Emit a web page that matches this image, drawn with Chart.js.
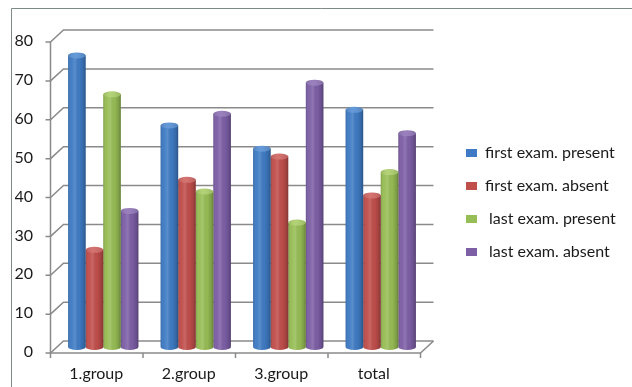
<!DOCTYPE html>
<html><head><meta charset="utf-8">
<style>html,body{margin:0;padding:0;background:#fff}#wrap{width:632px;height:387px;position:relative}</style>
<script src="https://cdn.jsdelivr.net/npm/chart.js@4.4.0/dist/chart.umd.min.js"></script>
</head><body><div id="wrap"><canvas id="c" width="632" height="387"></canvas></div>
<script>
const categories = ['1.group', '2.group', '3.group', 'total'];
const seriesNames = ['first exam. present', 'first exam. absent', ' last exam. present', ' last exam. absent'];
const firstExamPresent = [75, 57, 51, 61];
const firstExamAbsent = [25, 43, 49, 39];
const lastExamPresent = [65, 40, 32, 45];
const lastExamAbsent = [35, 60, 68, 55];
const yTicks = [0, 10, 20, 30, 40, 50, 60, 70, 80];

const baseColors = ['#3F7BC4', '#C04E4B', '#97BD55', '#7D5FA6'];
const topColors = ['#5B93D6', '#D26A67', '#AFD06F', '#9479BA'];
const FONT = 'Lato';

const frame3d = {
  id: 'frame3d',
  afterInit(chart) {
    const lg = chart.legend;
    if (lg) {
      const orig = lg.fit.bind(lg);
      lg.fit = function () { orig(); if (this.options.display) this.width = 205; };
    }
  },
  afterLayout(chart) {
    const lg = chart.legend;
    if (!lg) return;
    const pad = lg.options.labels.padding;
    const h = lg.height;
    lg.left = 466 - pad; lg.right = lg.left + lg.width;
    lg.top = 153 - 8 - pad; lg.bottom = lg.top + h;
  },
  beforeDraw(chart) {
    const c = chart.ctx;
    c.save();
    c.strokeStyle = '#7d8a86';
    c.lineWidth = 1;
    c.beginPath();
    c.moveTo(11.5, 387); c.lineTo(11.5, 8.5); c.lineTo(632, 8.5);
    c.stroke();
    c.restore();
  },
  beforeDatasetsDraw(chart) {
    const c = chart.ctx, x = chart.scales.x, y = chart.scales.y;
    const L = x.left, R = x.right, DX = 6.5, DY = 6;
    c.save();
    c.strokeStyle = '#8a8a8a';
    c.lineWidth = 1.5;
    y.ticks.forEach(t => {
      const py = y.getPixelForValue(t.value);
      c.beginPath();
      c.moveTo(L - DX - 5, py + DY);
      c.lineTo(L - DX, py + DY);
      c.lineTo(L + DX, py - DY);
      c.lineTo(R + DX, py - DY);
      c.stroke();
    });
    const y0 = y.getPixelForValue(0), yT = y.getPixelForValue(y.max);
    c.beginPath();
    c.moveTo(L - DX, yT + DY);
    c.lineTo(L - DX, y0 + DY);
    c.lineTo(R - DX, y0 + DY);
    c.lineTo(R + DX, y0 - DY);
    c.stroke();
    const n = categories.length;
    c.beginPath();
    for (let i = 0; i <= n; i++) {
      const px = L + (R - L) * i / n - DX;
      c.moveTo(px, y0 + DY); c.lineTo(px, y0 + DY + 5);
    }
    c.stroke();
    c.restore();
  },
  afterDatasetsDraw(chart) {
    const c = chart.ctx;
    c.save();
    chart.data.datasets.forEach((ds, di) => {
      const meta = chart.getDatasetMeta(di);
      meta.data.forEach(el => {
        const p = el.getProps(['x', 'y', 'base', 'width'], true);
        const cx = p.x, ty = p.y, base = p.base, w = p.width;
        const l = cx - w / 2, r = cx + w / 2, ry = 3;
        c.fillStyle = ds.backgroundColor;
        c.beginPath(); c.ellipse(cx, base, w / 2, ry, 0, 0, Math.PI); c.fill();
        const g = c.createLinearGradient(l, 0, r, 0);
        g.addColorStop(0, 'rgba(0,0,0,0.16)');
        g.addColorStop(0.18, 'rgba(255,255,255,0.02)');
        g.addColorStop(0.4, 'rgba(255,255,255,0.14)');
        g.addColorStop(0.65, 'rgba(0,0,0,0.02)');
        g.addColorStop(0.88, 'rgba(0,0,0,0.16)');
        g.addColorStop(1, 'rgba(0,0,0,0.32)');
        c.beginPath();
        c.moveTo(l, ty); c.lineTo(l, base);
        c.ellipse(cx, base, w / 2, ry, 0, Math.PI, 0, true);
        c.lineTo(r, ty); c.closePath();
        c.fillStyle = g; c.fill();
        c.beginPath(); c.ellipse(cx, ty, w / 2, ry, 0, 0, 2 * Math.PI);
        c.fillStyle = topColors[di]; c.fill();
        const g2 = c.createLinearGradient(l, 0, r, 0);
        g2.addColorStop(0, 'rgba(0,0,0,0.12)');
        g2.addColorStop(0.4, 'rgba(255,255,255,0.06)');
        g2.addColorStop(1, 'rgba(0,0,0,0.12)');
        c.fillStyle = g2; c.fill();
      });
    });
    c.restore();
  }
};

const seriesValues = [firstExamPresent, firstExamAbsent, lastExamPresent, lastExamAbsent];

new Chart(document.getElementById('c'), {
  type: 'bar',
  data: {
    labels: categories,
    datasets: seriesValues.map((vals, i) => ({
      label: seriesNames[i],
      data: vals,
      backgroundColor: baseColors[i],
      borderWidth: 0,
      categoryPercentage: 0.76,
      barPercentage: 1.0
    }))
  },
  options: {
    responsive: false,
    animation: false,
    devicePixelRatio: 1,
    layout: { padding: { left: 15, right: 0, top: 36, bottom: 0 } },
    scales: {
      x: {
        grid: { display: false, drawTicks: false },
        border: { display: false },
        ticks: { color: '#1a1a1a', font: { family: FONT, size: 16 }, padding: 17, labelOffset: -7 },
        afterFit: s => { s.height = 40; }
      },
      y: {
        min: 0, max: 80,
        grid: { display: false, drawTicks: false },
        border: { display: false },
        afterBuildTicks: s => { s.ticks = yTicks.map(v => ({ value: v })); },
        ticks: { color: '#1a1a1a', font: { family: FONT, size: 16 }, padding: 24, labelOffset: 5 },
        afterFit: s => { s.width = 42; }
      }
    },
    plugins: {
      legend: {
        position: 'right',
        align: 'start',
        labels: { boxWidth: 11, boxHeight: 8, padding: 17, color: '#1a1a1a', font: { family: FONT, size: 16 } }
      },
      tooltip: { enabled: false }
    }
  },
  plugins: [frame3d]
});
</script>
</body></html>
